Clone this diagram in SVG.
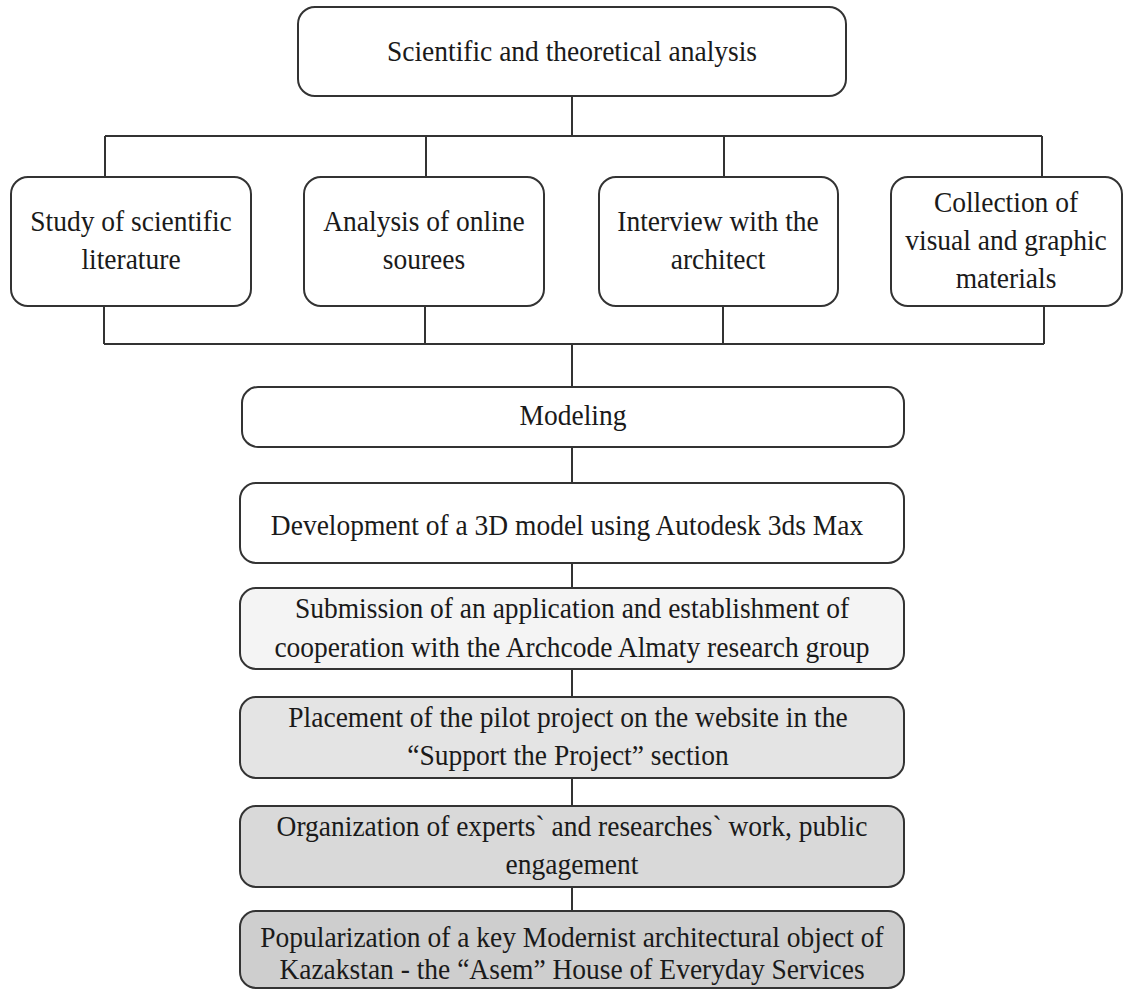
<svg xmlns="http://www.w3.org/2000/svg" width="1125" height="991" viewBox="0 0 1125 991">
<style>
.box{stroke:#333333;stroke-width:2}
.w{fill:#ffffff}
.g1{fill:#f4f4f4}
.g2{fill:#e4e4e4}
.g3{fill:#d9d9d9}
.g4{fill:#cecece}
.t{font-family:"Liberation Serif","Times New Roman",serif;font-size:29.5px;fill:#1a1a1a;text-anchor:middle}
.c{stroke:#333333;stroke-width:2;fill:none}
</style>
<rect width="1125" height="991" fill="#ffffff"/>
<g id="connectors">
<path class="c" d="M572,96 V136 M105,136 H1042 M105,136 V177 M426,136 V177 M724,136 V177 M1042,136 V177"/>
<path class="c" d="M104,306 V344 M425,306 V344 M723,306 V344 M1044,306 V344 M104,344 H1044 M572,344 V387"/>
<path class="c" d="M572,447 V483 M572,563 V588 M572,669 V697 M572,778 V806 M572,887 V911"/>
</g>
<g id="n_top">
<rect class="box w" x="298" y="7" width="548" height="89" rx="17"/>
<text class="t" transform="translate(572,61) scale(0.932,1)">Scientific and theoretical analysis</text>
</g>
<g id="n_study">
<rect class="box w" x="11" y="177" width="240" height="129" rx="17"/>
<text class="t" transform="translate(131,231) scale(0.932,1)">Study of scientific</text>
<text class="t" transform="translate(131,269) scale(0.932,1)">literature</text>
</g>
<g id="n_online">
<rect class="box w" x="304" y="177" width="240" height="129" rx="17"/>
<text class="t" transform="translate(424,231) scale(0.932,1)">Analysis of online</text>
<text class="t" transform="translate(424,269) scale(0.932,1)">sourees</text>
</g>
<g id="n_interview">
<rect class="box w" x="599" y="177" width="239" height="129" rx="17"/>
<text class="t" transform="translate(718,231) scale(0.932,1)">Interview with the</text>
<text class="t" transform="translate(718,269) scale(0.932,1)">architect</text>
</g>
<g id="n_collection">
<rect class="box w" x="891" y="177" width="231" height="129" rx="17"/>
<text class="t" transform="translate(1006,212) scale(0.932,1)">Collection of</text>
<text class="t" transform="translate(1006,250) scale(0.932,1)">visual and graphic</text>
<text class="t" transform="translate(1006,288) scale(0.932,1)">materials</text>
</g>
<g id="n_modeling">
<rect class="box w" x="242" y="387" width="662" height="60" rx="16"/>
<text class="t" transform="translate(573,425) scale(0.932,1)">Modeling</text>
</g>
<g id="n_dev">
<rect class="box w" x="240" y="483" width="664" height="80" rx="16"/>
<text class="t" transform="translate(567,535) scale(0.932,1)">Development of a 3D model using Autodesk 3ds Max</text>
</g>
<g id="n_submission">
<rect class="box g1" x="240" y="588" width="664" height="81" rx="16"/>
<text class="t" transform="translate(572,618) scale(0.932,1)">Submission of an application and establishment of</text>
<text class="t" transform="translate(572,657) scale(0.932,1)">cooperation with the Archcode Almaty research group</text>
</g>
<g id="n_placement">
<rect class="box g2" x="240" y="697" width="664" height="81" rx="16"/>
<text class="t" transform="translate(568,727) scale(0.932,1)">Placement of the pilot project on the website in the</text>
<text class="t" transform="translate(568,765) scale(0.932,1)">“Support the Project” section</text>
</g>
<g id="n_organization">
<rect class="box g3" x="240" y="806" width="664" height="81" rx="16"/>
<text class="t" transform="translate(572,836) scale(0.932,1)">Organization of experts` and researches` work, public</text>
<text class="t" transform="translate(572,874) scale(0.932,1)">engagement</text>
</g>
<g id="n_popularization">
<rect class="box g4" x="240" y="911" width="664" height="77" rx="16"/>
<text class="t" transform="translate(572,947) scale(0.932,1)">Popularization of a key Modernist architectural object of</text>
<text class="t" transform="translate(572,979) scale(0.932,1)">Kazakstan - the “Asem” House of Everyday Services</text>
</g>
</svg>
